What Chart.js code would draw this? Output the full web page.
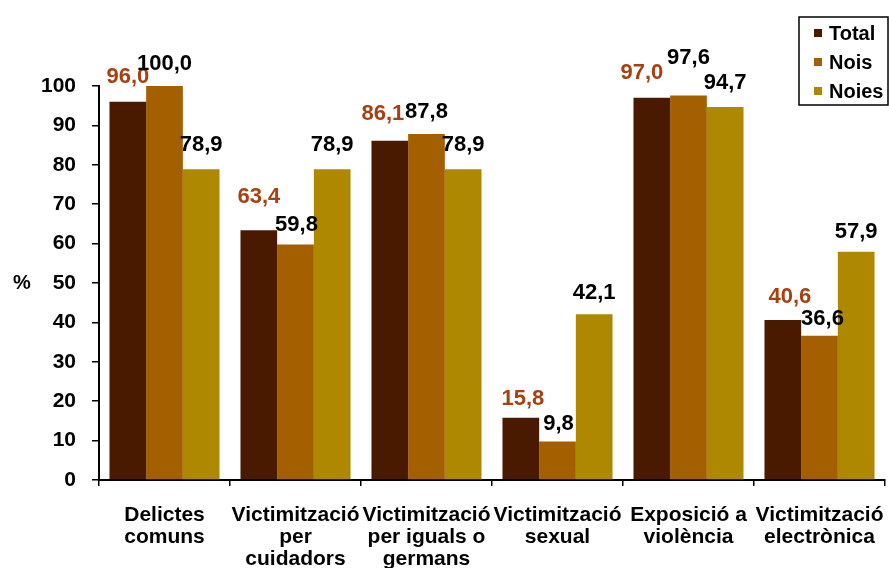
<!DOCTYPE html>
<html>
<head>
<meta charset="utf-8">
<script src="https://cdn.jsdelivr.net/npm/chart.js@4"></script>
<style>
  html, body { margin: 0; padding: 0; background: #fff; }
  #wrap { width: 889px; height: 568px; position: relative; }
</style>
</head>
<body>
<div id="wrap"><canvas id="victimChart"></canvas></div>
<script>
// Categories (multi-line labels) and values per group, in %
const categories = [
    ['Delictes', 'comuns'],
    ['Victimització', 'per', 'cuidadors'],
    ['Victimització', 'per iguals o', 'germans'],
    ['Victimització', 'sexual'],
    ['Exposició a', 'violència'],
    ['Victimització', 'electrònica']
];
const totalValues = [96.0, 63.4, 86.1, 15.8, 97.0, 40.6];
const noisValues = [100.0, 59.8, 87.8, 9.8, 97.6, 36.6];
const noiesValues = [78.9, 78.9, 78.9, 42.1, 94.7, 57.9];
const yTicks = [0, 10, 20, 30, 40, 50, 60, 70, 80, 90, 100];

const FONT = '"Liberation Sans", Arial, sans-serif';

// Hand-placed value labels: [dx, gap above bar] per "dataset:index"
const labelNudge = {
    '0:1': [0, 27], '0:2': [-7, 21], '0:3': [2, 13], '0:4': [-10, 19], '0:5': [7, 17],
    '1:1': [1, 13], '1:3': [1, 11], '1:4': [0, 31], '1:5': [3, 11],
    '2:3': [0, 15], '2:5': [0, 14]
};

// Value labels above each bar, comma as decimal separator
const valueLabels = {
    id: 'valueLabels',
    afterDatasetsDraw(chart) {
        const ctx = chart.ctx;
        ctx.save();
        ctx.font = 'bold 22px ' + FONT;
        ctx.textAlign = 'center';
        ctx.textBaseline = 'alphabetic';
        chart.data.datasets.forEach(function(ds, i) {
            const meta = chart.getDatasetMeta(i);
            ctx.fillStyle = ds.labelColor;
            meta.data.forEach(function(bar, j) {
                const n = labelNudge[i + ':' + j] || [0, ds.labelGap];
                const txt = ds.data[j].toFixed(1).replace('.', ',');
                ctx.fillText(txt, bar.x + n[0], bar.y - n[1]);
            });
        });
        ctx.restore();
    }
};

// Boxed legend in the top right corner and the "%" axis caption
const boxLegend = {
    id: 'boxLegend',
    afterDraw(chart) {
        const ctx = chart.ctx;
        ctx.save();
        ctx.fillStyle = '#fff';
        ctx.fillRect(799, 17, 89, 88);
        ctx.strokeStyle = '#000';
        ctx.lineWidth = 1.5;
        ctx.strokeRect(799, 17, 89, 88);
        ctx.font = 'bold 20px ' + FONT;
        ctx.textBaseline = 'middle';
        ctx.textAlign = 'left';
        chart.data.datasets.forEach(function(ds, i) {
            const cy = 33 + i * 29;
            ctx.fillStyle = ds.backgroundColor;
            ctx.fillRect(814, cy - 4, 8, 8);
            ctx.fillStyle = '#000';
            ctx.fillText(ds.label, 829, cy + 1);
        });
        ctx.textAlign = 'center';
        ctx.fillText('%', 22, 283);
        ctx.restore();
    }
};

document.addEventListener('DOMContentLoaded', function() {
    const ctx = document.getElementById('victimChart').getContext('2d');
    new Chart(ctx, {
        type: 'bar',
        data: {
            labels: categories,
            datasets: [
                { label: 'Total', data: totalValues, backgroundColor: '#4a1a00', labelColor: '#a8400f', labelGap: 19 },
                { label: 'Nois', data: noisValues, backgroundColor: '#a35f00', labelColor: '#000', labelGap: 16 },
                { label: 'Noies', data: noiesValues, backgroundColor: '#ad8800', labelColor: '#000', labelGap: 18 }
            ]
        },
        options: {
            responsive: true,
            maintainAspectRatio: false,
            animation: false,
            datasets: {
                bar: { barPercentage: 1.0, categoryPercentage: 0.84 }
            },
            layout: { padding: { top: 86, right: 4, left: 0, bottom: 0 } },
            plugins: {
                legend: { display: false },
                tooltip: { enabled: false }
            },
            scales: {
                x: {
                    grid: { drawOnChartArea: false, color: '#000', lineWidth: 1.5, tickLength: 6, offset: true },
                    border: { color: '#000', width: 2 },
                    ticks: {
                        color: '#000',
                        font: { family: FONT, size: 21, weight: 'bold', lineHeight: 1.05 },
                        padding: 18,
                        maxRotation: 0,
                        autoSkip: false
                    },
                    afterFit: function(scale) {
                        // long labels would otherwise shrink the plot from the sides
                        scale.height = 88;
                        scale.paddingLeft = 0;
                        scale.paddingRight = 0;
                    }
                },
                y: {
                    min: 0,
                    max: 100,
                    afterBuildTicks: function(scale) {
                        scale.ticks = yTicks.map(function(v) { return { value: v }; });
                    },
                    grid: { drawOnChartArea: false, color: '#000', lineWidth: 1.5, tickLength: 7 },
                    border: { color: '#000', width: 2 },
                    ticks: {
                        color: '#000',
                        font: { family: FONT, size: 21, weight: 'bold' },
                        padding: 16
                    },
                    afterFit: function(scale) { scale.width = 99; }
                }
            }
        },
        plugins: [valueLabels, boxLegend]
    });
});
</script>
</body>
</html>
